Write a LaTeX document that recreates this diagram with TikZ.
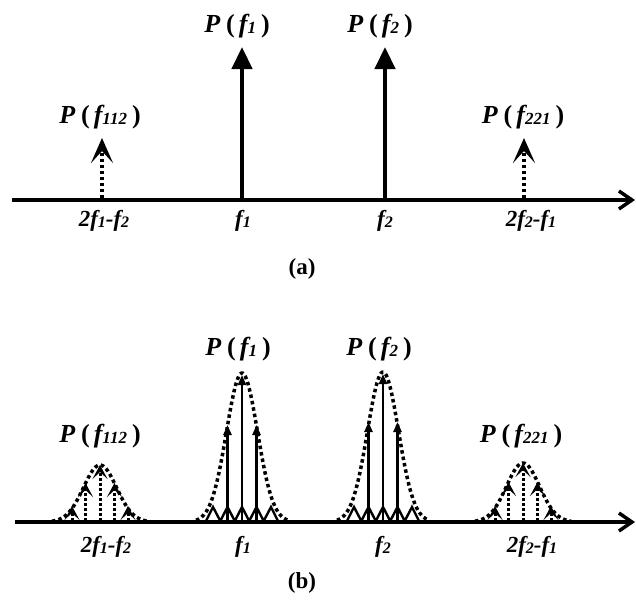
\documentclass[tikz,border=0pt]{standalone}
\usepackage{fontspec}
\setmainfont{Liberation Serif}
\usetikzlibrary{arrows.meta}
\newcommand\sbx[2]{\raisebox{-1.8pt}{\fontsize{#1}{#1}\selectfont #2}}
\newcommand\plabtext[1]{P\hspace{6pt}{\upshape(}\hspace{4pt}f\sbx{17}{#1}\hspace{5pt}{\upshape)}}
\newcommand\fl[1]{f\sbx{16}{#1}}
\begin{document}
\begin{tikzpicture}[x=1pt,y=-1pt,
  plab/.style={font=\fontsize{26}{26}\selectfont\bfseries\itshape, inner sep=0pt, anchor=base},
  flab/.style={font=\fontsize{23}{23}\selectfont\bfseries\itshape, inner sep=0pt, anchor=base},
  caplab/.style={font=\fontsize{23}{23}\selectfont\bfseries, inner sep=0pt, anchor=base},
  axisline/.style={line width=3.5pt, -{Straight Barb[length=13pt,width=18pt,line width=3.5pt]}},
  bigarrow/.style={line width=4.5pt, -{Triangle[length=22pt,width=20pt]}},
  dotarrow/.style={line width=4pt, dash pattern=on 3.5pt off 2.5pt, -{Stealth[length=25pt,width=22pt,inset=12pt]}},
  smallsolid/.style={line width=2.4pt, -{Triangle[length=10pt,width=8pt]}},
  smalldot/.style={line width=3pt, dash pattern=on 3pt off 2pt, -{Stealth[length=14pt,width=15pt,inset=7pt]}},
  gcurve/.style={line width=3.5pt, dash pattern=on 3.5pt off 3pt},
  zig/.style={line width=2.4pt, line join=miter},
]
\useasboundingbox (0,0) rectangle (636,600);

% ---------- panel (a) ----------
\coordinate (a0) at (12,200);
\coordinate (a1) at (635,200);
\draw[axisline] (a0) -- (a1);

\coordinate (af1b) at (242,200); \coordinate (af1t) at (242,47);
\coordinate (af2b) at (385,200); \coordinate (af2t) at (385,47);
\coordinate (a112b) at (102,198); \coordinate (a112t) at (102,138);
\coordinate (a221b) at (524,198); \coordinate (a221t) at (524,138);
\draw[bigarrow] (af1b) -- (af1t);
\draw[bigarrow] (af2b) -- (af2t);
\draw[dotarrow] (a112b) -- (a112t);
\draw[dotarrow] (a221b) -- (a221t);

\node[plab] (apf1) at (237,32) {\plabtext{1}};
\node[plab] (apf2) at (380,32) {\plabtext{2}};
\node[plab] (apf112) at (100,123) {\plabtext{112}};
\node[plab] (apf221) at (523,123) {\plabtext{221}};

\node[flab] (axl1) at (104,226) {2\fl{1}-\fl{2}};
\node[flab] (axl2) at (243,226) {\fl{1}};
\node[flab] (axl3) at (385,226) {\fl{2}};
\node[flab] (axl4) at (531,226) {2\fl{2}-\fl{1}};
\node[caplab] (capa) at (302,274) {(a)};

% ---------- panel (b) ----------
\coordinate (b0) at (15,522);
\coordinate (b1) at (635,522);
\draw[axisline] (b0) -- (b1);

% gaussian envelopes
\draw[gcurve] plot[domain=-46:46, samples=70] ({242+\x}, {522-149*exp(-(\x*\x)/(2*15.5*15.5))});
\draw[gcurve] plot[domain=-46:46, samples=70] ({383+\x}, {522-150*exp(-(\x*\x)/(2*15.5*15.5))});
\draw[gcurve] plot[domain=-48:48, samples=70] ({100+\x}, {522-57*exp(-(\x*\x)/(2*16.5*16.5))});
\draw[gcurve] plot[domain=-48:48, samples=70] ({523+\x}, {522-59*exp(-(\x*\x)/(2*16.5*16.5))});

% main clusters: solid arrows and base zigzag
\foreach \c/\n/\hc/\hi in {242/p/375/425, 383/q/374/422} {
  \coordinate (\n cb) at (\c,521); \coordinate (\n ct) at (\c,\hc);
  \coordinate (\n lb) at (\c-14.5,521); \coordinate (\n lt) at (\c-14.5,\hi);
  \coordinate (\n rb) at (\c+14.5,521); \coordinate (\n rt) at (\c+14.5,\hi);
  \draw[smallsolid] (\n cb) -- (\n ct);
  \draw[smallsolid] (\n lb) -- (\n lt);
  \draw[smallsolid] (\n rb) -- (\n rt);
  \coordinate (\n z0) at (\c-36,521);
  \coordinate (\n z1) at (\c-29,507);
  \coordinate (\n z2) at (\c-21.7,521);
  \coordinate (\n z3) at (\c-14.5,507);
  \coordinate (\n z4) at (\c-7.2,521);
  \coordinate (\n z5) at (\c,507);
  \coordinate (\n z6) at (\c+7.2,521);
  \coordinate (\n z7) at (\c+14.5,507);
  \coordinate (\n z8) at (\c+21.7,521);
  \coordinate (\n z9) at (\c+29,507);
  \coordinate (\n z10) at (\c+36,521);
  \draw[zig] (\n z0) -- (\n z1) -- (\n z2) -- (\n z3) -- (\n z4) -- (\n z5) -- (\n z6) -- (\n z7) -- (\n z8) -- (\n z9) -- (\n z10);
}

% side clusters: dotted arrows
\foreach \c/\n/\hc/\hi in {100/s/465/483, 523/t/463/482} {
  \coordinate (\n cb) at (\c,521); \coordinate (\n ct) at (\c,\hc);
  \coordinate (\n lb) at (\c-14.5,521); \coordinate (\n lt) at (\c-14.5,\hi);
  \coordinate (\n rb) at (\c+14.5,521); \coordinate (\n rt) at (\c+14.5,\hi);
  \coordinate (\n llb) at (\c-28,521); \coordinate (\n llt) at (\c-28,506);
  \coordinate (\n rrb) at (\c+28,521); \coordinate (\n rrt) at (\c+28,506);
  \draw[smalldot] (\n cb) -- (\n ct);
  \draw[smalldot] (\n lb) -- (\n lt);
  \draw[smalldot] (\n rb) -- (\n rt);
  \draw[smalldot] (\n llb) -- (\n llt);
  \draw[smalldot] (\n rrb) -- (\n rrt);
}

\node[plab] (bpf1) at (238,355) {\plabtext{1}};
\node[plab] (bpf2) at (379,355) {\plabtext{2}};
\node[plab] (bpf112) at (100,442) {\plabtext{112}};
\node[plab] (bpf221) at (521,442) {\plabtext{221}};

\node[flab] (bxl1) at (106,552) {2\fl{1}-\fl{2}};
\node[flab] (bxl2) at (243,552) {\fl{1}};
\node[flab] (bxl3) at (383,552) {\fl{2}};
\node[flab] (bxl4) at (532,552) {2\fl{2}-\fl{1}};
\node[caplab] (capb) at (302,588) {(b)};
\end{tikzpicture}
\end{document}
